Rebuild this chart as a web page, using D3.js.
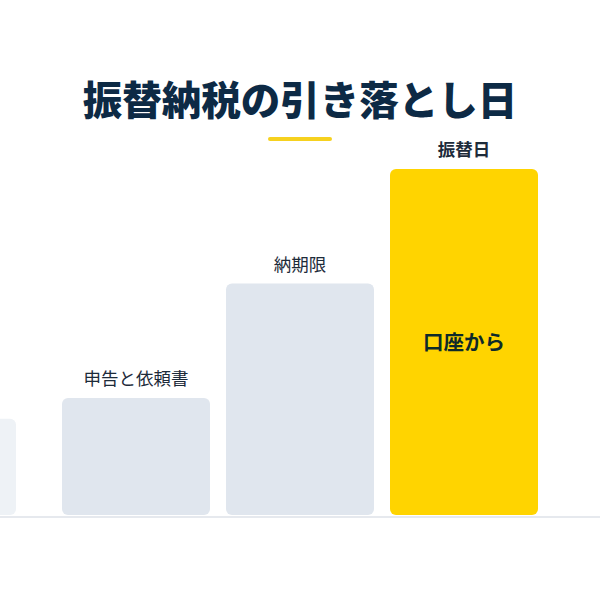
<!doctype html>
<html><head><meta charset="utf-8"/>
<title>振替納税の引き落とし日</title>
<style>
  body { margin:0; background:#ffffff; }
  svg { display:block; font-family:"Noto Sans CJK JP","Noto Sans",sans-serif; }
</style>
</head><body>
<svg id="chart" width="600" height="600"></svg>
<script src="https://cdn.jsdelivr.net/npm/d3@7"></script>
<script>
// Steps of the 振替納税 flow, left to right; the first one is a faded lead-in.
const steps = ["前", "申告と依頼書", "納期限", "振替日"];
const heights = [28, 34, 67, 100];
const labels = ["", "申告と依頼書", "納期限", "振替日"];
const inner = ["", "", "", "口座から"];

const W = 600, H = 600;
const baseY = 516;
const svg = d3.select("#chart");

// step 164, bars 148 wide
const x = d3.scaleBand().domain(steps).range([-102, 538]).paddingInner(16 / 164).paddingOuter(0);
const y = d3.scaleLinear().domain([0, 100]).range([baseY, 169]);

// title
svg.append("text")
  .attr("x", W / 2).attr("y", 115)
  .attr("text-anchor", "middle")
  .attr("font-size", 39.5).attr("font-weight", 900)
  .attr("fill", "#0d2a45")
  .text("振替納税の引き落とし日");

svg.append("line")
  .attr("x1", 270).attr("x2", 330).attr("y1", 139).attr("y2", 139)
  .attr("stroke", "#f6d11f").attr("stroke-width", 4).attr("stroke-linecap", "round");

// baseline
svg.append("line")
  .attr("x1", 0).attr("x2", W).attr("y1", baseY + 1).attr("y2", baseY + 1)
  .attr("stroke", "#e6e9ee").attr("stroke-width", 2);

const fill = (d, i) => i === steps.length - 1 ? "#ffd400" : i === 0 ? "#eef2f6" : "#e0e6ee";
const shift = (d, i) => i === 0 ? -30 : 0;

svg.append("g").selectAll("rect").data(steps).join("rect")
  .attr("x", (d, i) => x(d) + shift(d, i))
  .attr("y", (d, i) => y(heights[i]))
  .attr("width", x.bandwidth())
  .attr("height", (d, i) => baseY - y(heights[i]) - 1)
  .attr("rx", 6)
  .attr("fill", fill);

svg.append("g").selectAll("text").data(steps).join("text")
  .attr("x", d => x(d) + x.bandwidth() / 2)
  .attr("y", (d, i) => y(heights[i]) - 13)
  .attr("text-anchor", "middle")
  .attr("font-size", 17.5)
  .attr("font-weight", (d, i) => i === steps.length - 1 ? 700 : 400)
  .attr("fill", "#1d2b3a")
  .text((d, i) => labels[i]);

svg.append("g").selectAll("text").data(steps).join("text")
  .attr("x", d => x(d) + x.bandwidth() / 2)
  .attr("y", (d, i) => (y(heights[i]) + baseY) / 2 + 7)
  .attr("text-anchor", "middle")
  .attr("font-size", 20.5).attr("font-weight", 700)
  .attr("fill", "#0d2a2a")
  .text((d, i) => inner[i]);
</script>
</body></html>
